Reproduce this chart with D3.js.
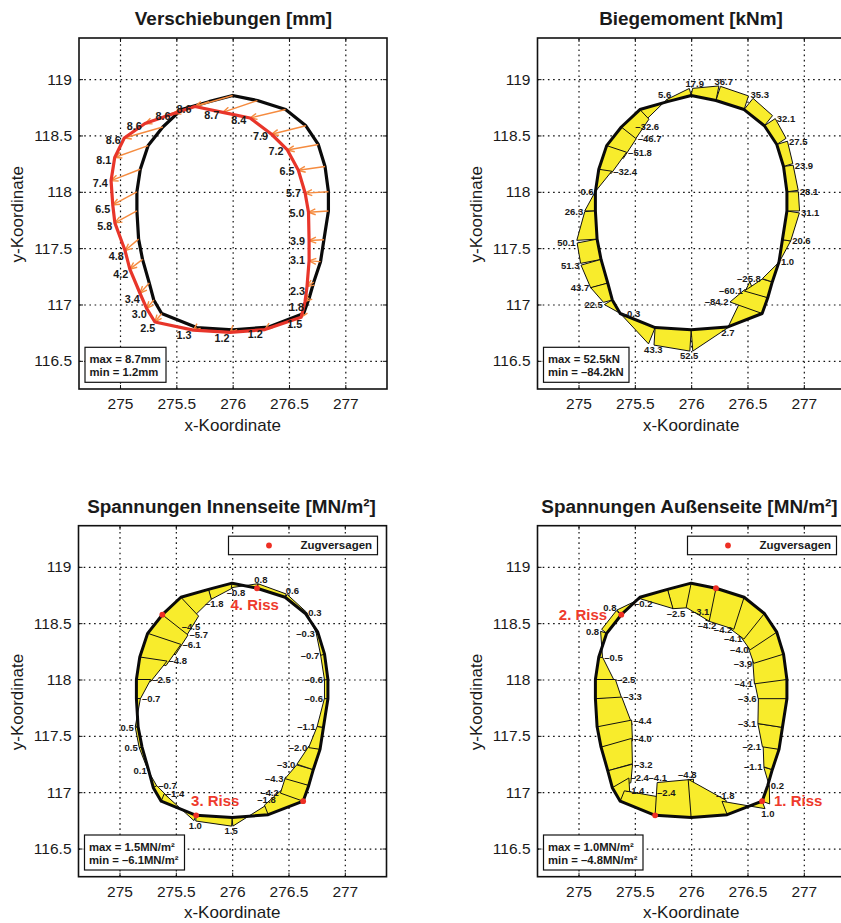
<!DOCTYPE html>
<html>
<head>
<meta charset="utf-8">
<script src="https://cdn.jsdelivr.net/npm/d3@7"></script>
<style>
body { margin: 0; background: white; overflow: hidden; }
text { font-family: "Liberation Sans", Arial, sans-serif; fill: #1a1a1a; }
</style>
</head>
<body>
<div id="charts"></div>
<script>
// tick labels
var xTicks = [275, 275.5, 276, 276.5, 277];
var yTicks = [116.5, 117, 117.5, 118, 118.5, 119];

// outline nodes, clockwise from the crown
var nodeX = [276, 276.22, 276.47, 276.65, 276.76, 276.82, 276.85, 276.85, 276.81, 276.78, 276.72, 276.68, 276.63, 276.32,
    276, 275.68, 275.37, 275.30, 275.26, 275.2, 275.165, 275.15, 275.15, 275.18, 275.25, 275.38, 275.545, 275.79];
var nodeY = [118.855, 118.81, 118.73, 118.586, 118.42, 118.225, 118.0, 117.83, 117.575, 117.38, 117.2, 117.06, 116.92, 116.8,
    116.775, 116.795, 116.92, 117.04, 117.19, 117.4, 117.58, 117.83, 118.0, 118.2, 118.41, 118.575, 118.73, 118.80];

// displacement in mm, label and components
var dispValues = [8.6, 8.7, 8.4, 7.9, 7.2, 6.5, 5.7, 5.0, 3.9, 3.1, 2.3, 1.8, 1.5, 1.2,
    1.2, 1.3, 2.5, 3.0, 3.4, 4.2, 4.8, 5.8, 6.5, 7.4, 8.1, 8.6, 8.6, 8.6];
var dispDX = [-8.9, -8.2, -8.4, -8.1, -7.3, -6.3, -5.5, -4.7, -3.5, -2.7, -1.6, -1.0, -0.6, -0.9,
    -0.6, -0.8, -1.6, -1.7, -2.2, -3.0, -3.2, -5.2, -5.7, -6.9, -7.9, -9.1, -8.6, -8.3];
var dispDY = [-2.6, -2.8, -2.0, -2.0, -1.3, -0.9, -0.3, -0.3, -0.2, 0.2, -1.1, -0.9, -0.9, -0.6,
    -0.6, -0.6, -2.0, -2.0, -2.4, -2.3, -2.7, -2.8, -3.1, -2.7, -2.8, -2.6, -3.3, -2.8];

var momentValues = [17.9, 36.7, 35.3, 32.1, 27.5, 23.9, 28.1, 31.1, 20.6, 1.0, -25.8, -60.1, -84.2, 2.7,
    52.5, 43.3, -0.3, 22.5, 43.7, 51.3, 50.1, 26.3, 0.6, -32.4, -51.8, -46.7, -32.6, 5.6];
var innerValues = [-0.8, 0.8, 0.6, 0.3, -0.3, -0.7, -0.6, -0.6, -1.1, -2.0, -3.0, -4.3, -4.2, -1.8,
    1.5, 1.0, -1.4, -0.7, 0.1, 0.5, 0.5, -0.7, -2.5, -4.8, -6.1, -5.7, -4.5, -1.8];
var outerValues = [-3.1, -4.2, -4.2, -4.1, -4.0, -3.9, -4.1, -3.6, -3.1, -2.1, -1.1, 0.2, 1.0, -1.8,
    -4.8, -4.1, -1.4, -2.4, -3.2, -4.0, -4.4, -3.3, -2.5, -0.5, 0.8, 0.8, -0.2, -2.5];
// the outer stress jumps at node 15: the next element starts from here
var outerJumpNode = 15;
var outerJumpValue = -2.4;

// nodes with tension failure
var failNodes = [1, 12, 15, 25];

// plot box layout
var svgWidth = 841, svgHeight = 923;
var plotW = 308, plotH = 351;
var xScale = d3.scaleLinear().domain([274.636, 277.37]).range([0, plotW]);
var yScale = d3.scaleLinear().domain([116.25, 119.365]).range([plotH, 0]);

var svg = d3.select('#charts')
    .append('svg')
    .attr('width', svgWidth)
    .attr('height', svgHeight);

svg.append('defs').append('marker')
    .attr('id', 'arrow')
    .attr('markerUnits', 'userSpaceOnUse')
    .attr('viewBox', '-8 -4 9 8')
    .attr('refX', 0).attr('refY', 0)
    .attr('markerWidth', 9).attr('markerHeight', 8)
    .attr('orient', 'auto')
    .append('path')
    .attr('d', 'M-7,-3 L0,0 L-7,3')
    .attr('fill', 'none')
    .attr('stroke', '#f58b3f')
    .attr('stroke-width', 1.4);

var closedLine = d3.line().curve(d3.curveLinearClosed);

function nodePoints() {
    return nodeX.map(function (x, i) { return [xScale(x), yScale(nodeY[i])]; });
}

// frame, grid, ticks and axis titles for one panel
function makePanel(left, top, title, titleX, titleY) {
    var g = svg.append('g').attr('transform', 'translate(' + left + ',' + top + ')');

    var gridX = g.append('g').attr('transform', 'translate(0,' + plotH + ')')
        .call(d3.axisBottom(xScale).tickValues(xTicks).tickSize(-plotH).tickFormat(''));
    var gridY = g.append('g')
        .call(d3.axisLeft(yScale).tickValues(yTicks).tickSize(-plotW).tickFormat(''));
    [gridX, gridY].forEach(function (a) {
        a.select('.domain').remove();
        a.selectAll('line').attr('stroke', '#111').attr('stroke-width', 1.2).attr('stroke-dasharray', '1.6 3.6');
    });

    svg.append('text').attr('x', titleX).attr('y', titleY)
        .attr('text-anchor', 'middle').style('font-size', '18.9px').style('font-weight', 'bold')
        .text(title);
    g.append('text').attr('x', xScale(276)).attr('y', plotH + 41.5)
        .attr('text-anchor', 'middle').style('font-size', '17px').text('x-Koordinate');
    g.append('text').attr('transform', 'translate(-56,' + (yScale(117.8)) + ') rotate(-90)')
        .attr('text-anchor', 'middle').style('font-size', '17px').text('y-Koordinate');
    return g;
}

// drawn last so the frame and the tick labels sit on top of the marks
function finishPanel(g) {
    var bottom = g.append('g').attr('transform', 'translate(0,' + plotH + ')')
        .call(d3.axisBottom(xScale).tickValues(xTicks).tickSize(-4).tickPadding(9).tickFormat(String));
    var leftAxis = g.append('g')
        .call(d3.axisLeft(yScale).tickValues(yTicks).tickSize(-4).tickPadding(7).tickFormat(String));
    var topAxis = g.append('g')
        .call(d3.axisTop(xScale).tickValues(xTicks).tickSize(-4).tickFormat(''));
    var rightAxis = g.append('g').attr('transform', 'translate(' + plotW + ',0)')
        .call(d3.axisRight(yScale).tickValues(yTicks).tickSize(-4).tickFormat(''));
    [bottom, leftAxis, topAxis, rightAxis].forEach(function (a) {
        a.select('.domain').remove();
        a.selectAll('line').attr('stroke', '#111').attr('stroke-width', 1);
        a.selectAll('text').style('font-size', '15.5px').style('font-family', '"Liberation Sans", Arial, sans-serif').attr('fill', '#1a1a1a');
    });
    g.append('rect').attr('width', plotW).attr('height', plotH)
        .attr('fill', 'none').attr('stroke', '#111').attr('stroke-width', 1.6);
}

function infoBox(g, lines, width) {
    var box = g.append('g').attr('transform', 'translate(6,309.3)');
    box.append('rect').attr('width', width).attr('height', 35)
        .attr('fill', 'white').attr('stroke', '#111').attr('stroke-width', 1.2);
    box.selectAll('text').data(lines).enter().append('text')
        .attr('x', 4.5)
        .attr('y', function (d, i) { return 15.5 + i * 13.6; })
        .style('font-size', '11.3px').style('font-weight', 'bold')
        .text(function (d) { return d; });
}

function legendBox(g) {
    var box = g.append('g').attr('transform', 'translate(150,10.5)');
    box.append('rect').attr('width', 149).attr('height', 18.5)
        .attr('fill', 'white').attr('stroke', '#111').attr('stroke-width', 1.2);
    box.append('circle').attr('cx', 40.5).attr('cy', 9.3).attr('r', 2.9).attr('fill', '#ee2f24');
    box.append('text').attr('x', 72).attr('y', 13).style('font-size', '11.5px').style('font-weight', 'bold').text('Zugversagen');
}

function valueText(v) {
    return (v < 0 ? '\u2013' : '') + Math.abs(v).toFixed(1);
}

// put a label beyond a tip: beside it when the direction is sideways, else above or below it
function placeLabel(g, txt, tip, nx, ny, size, gap, sideLimit) {
    var t = g.append('text')
        .attr('text-anchor', 'middle')
        .style('font-size', size + 'px').style('font-weight', 'bold')
        .text(txt);
    var tw = t.node().getComputedTextLength();
    var side = Math.abs(nx) >= sideLimit;
    var ax = side ? (nx < 0 ? -1 : 1) : nx;
    var ay = side ? 0 : ny;
    t.attr('x', tip[0] + ax * (tw / 2 + gap))
        .attr('y', tip[1] + ay * (size * 0.36 + gap) + size * 0.36);
}

// stress or moment diagram: one quad per element, offset along the element normal
function drawDiagram(g, values, scale, jumpNode, jumpValue) {
    var pts = nodePoints();
    var n = pts.length;
    var pxScale = scale * (xScale(1) - xScale(0));
    var normals = pts.map(function (p, i) {
        var q = pts[(i + 1) % n];
        var len = Math.hypot(q[0] - p[0], q[1] - p[1]);
        return [(q[1] - p[1]) / len, -(q[0] - p[0]) / len];
    });
    function tip(i, nrm, v) {
        return [pts[i][0] + nrm[0] * v * pxScale, pts[i][1] + nrm[1] * v * pxScale];
    }
    d3.range(n - 1, -1, -1).forEach(function (i) {
        var j = (i + 1) % n;
        var startV = (i === jumpNode) ? jumpValue : values[i];
        g.append('path')
            .attr('d', closedLine([pts[i], tip(i, normals[i], startV), tip(j, normals[i], values[j]), pts[j]]))
            .attr('fill', '#f8ec2c')
            .attr('stroke', '#111')
            .attr('stroke-width', 1);
    });
    g.append('path').attr('d', closedLine(pts))
        .attr('fill', 'none').attr('stroke', '#0a0a0a').attr('stroke-width', 3).attr('stroke-linejoin', 'round');

    values.forEach(function (v, i) {
        // labels follow the element after the node on the right side, the one before it elsewhere
        var useNext = (v > 0 && nodeX[i] >= 276) || i === 13 || i === 26;
        var nrm = useNext ? normals[i] : normals[(i - 1 + n) % n];
        var s = v < 0 ? -1 : 1;
        placeLabel(g, valueText(v), tip(i, nrm, v), nrm[0] * s, nrm[1] * s, 9.5, 1.5, v < 0 ? 0.3 : 0.8);
    });
    if (jumpNode !== undefined) {
        var jn = normals[jumpNode];
        placeLabel(g, valueText(jumpValue), tip(jumpNode, jn, jumpValue), -jn[0], -jn[1], 9.5, 1.5, 2);
    }
}

function drawFailDots(g) {
    g.selectAll('.fail').data(failNodes).enter().append('circle')
        .attr('class', 'fail')
        .attr('cx', function (d) { return xScale(nodeX[d]); })
        .attr('cy', function (d) { return yScale(nodeY[d]); })
        .attr('r', 2.9)
        .attr('fill', '#ee2f24');
}

function crackLabel(g, txt, x, y) {
    g.append('text').attr('x', xScale(x)).attr('y', yScale(y))
        .attr('text-anchor', 'middle')
        .style('font-size', '15px').style('font-weight', 'bold').style('fill', '#ee3a2c')
        .text(txt);
}

// Verschiebungen
var g1 = makePanel(79, 38, 'Verschiebungen [mm]', 233.5, 24.5);
var dispScale = 0.0376;
var pts1 = nodePoints();
var moved = nodeX.map(function (x, i) {
    return [xScale(x + dispDX[i] * dispScale), yScale(nodeY[i] + dispDY[i] * dispScale)];
});
g1.append('path').attr('d', closedLine(pts1))
    .attr('fill', 'none').attr('stroke', '#0a0a0a').attr('stroke-width', 3.2).attr('stroke-linejoin', 'round');
g1.selectAll('.arrow').data(d3.range(nodeX.length)).enter().append('line')
    .attr('class', 'arrow')
    .attr('x1', function (i) { return pts1[i][0]; })
    .attr('y1', function (i) { return pts1[i][1]; })
    .attr('x2', function (i) { return moved[i][0]; })
    .attr('y2', function (i) { return moved[i][1]; })
    .attr('stroke', '#f58b3f')
    .attr('stroke-width', 1.4)
    .attr('marker-end', 'url(#arrow)');
g1.append('path').attr('d', closedLine(moved))
    .attr('fill', 'none').attr('stroke', '#e8352a').attr('stroke-width', 3.2).attr('stroke-linejoin', 'round');
dispValues.forEach(function (v, i) {
    var dx = moved[i][0] - pts1[i][0], dy = moved[i][1] - pts1[i][1];
    var len = Math.hypot(dx, dy);
    placeLabel(g1, v.toFixed(1), moved[i], dx / len, dy / len, 10.8, 4, 2);
});
infoBox(g1, ['max = 8.7mm', 'min = 1.2mm'], 81);
finishPanel(g1);

// Biegemoment
var g2 = makePanel(537.5, 38, 'Biegemoment [kNm]', 691, 24.5);
drawDiagram(g2, momentValues, 0.0036);
infoBox(g2, ['max = 52.5kN', 'min = \u201384.2kN'], 85.5);
finishPanel(g2);

// Spannungen Innenseite
var g3 = makePanel(78.5, 525.7, 'Spannungen Innenseite [MN/m\u00b2]', 231.5, 513);
drawDiagram(g3, innerValues, 0.051);
drawFailDots(g3);
crackLabel(g3, '4. Riss', 276.2, 118.62);
crackLabel(g3, '3. Riss', 275.85, 116.88);
legendBox(g3);
infoBox(g3, ['max = 1.5MN/m\u00b2', 'min = \u20136.1MN/m\u00b2'], 100);
finishPanel(g3);

// Spannungen Aussenseite
var g4 = makePanel(537.5, 525.7, 'Spannungen Au\u00dfenseite [MN/m\u00b2]', 689.5, 513);
drawDiagram(g4, outerValues, 0.071, outerJumpNode, outerJumpValue);
drawFailDots(g4);
crackLabel(g4, '2. Riss', 275.04, 118.53);
crackLabel(g4, '1. Riss', 276.95, 116.88);
legendBox(g4);
infoBox(g4, ['max = 1.0MN/m\u00b2', 'min = \u20134.8MN/m\u00b2'], 99.5);
finishPanel(g4);
</script>
</body>
</html>
